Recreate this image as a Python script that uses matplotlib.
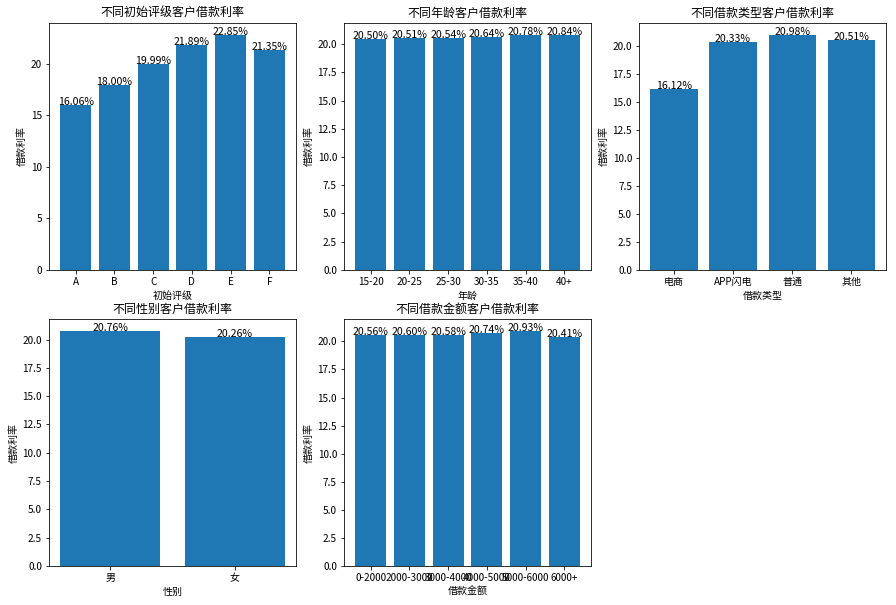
import matplotlib.pyplot as plt

plt.rcParams['font.family'] = ['Noto Sans CJK SC', 'DejaVu Sans']
plt.rcParams['axes.unicode_minus'] = False

# data
grade_labels = ['A', 'B', 'C', 'D', 'E', 'F']
grade_rates = [16.06, 18.00, 19.99, 21.89, 22.85, 21.35]

age_labels = ['15-20', '20-25', '25-30', '30-35', '35-40', '40+']
age_rates = [20.50, 20.51, 20.54, 20.64, 20.78, 20.84]

type_labels = ['电商', 'APP闪电', '普通', '其他']
type_rates = [16.12, 20.33, 20.98, 20.51]

sex_labels = ['男', '女']
sex_rates = [20.76, 20.26]

amount_labels = ['0-2000', '2000-3000', '3000-4000', '4000-5000', '5000-6000', '6000+']
amount_rates = [20.56, 20.60, 20.58, 20.74, 20.93, 20.41]


def draw_bar(ax, labels, rates, title, xlabel):
    """draw one bar chart with percent text on top"""
    x = range(len(labels))
    ax.bar(x, rates, color='#1f77b4')
    for i, v in zip(x, rates):
        ax.text(i, v, '%.2f%%' % v, ha='center', va='baseline', fontsize=10.5)
    ax.set_xticks(list(x))
    ax.set_xticklabels(labels)
    ax.set_title(title)
    ax.set_xlabel(xlabel)
    ax.set_ylabel('借款利率')


fig = plt.figure(figsize=(896 / 72, 605 / 72), dpi=72)
fig.subplots_adjust(left=0.0547, right=0.989, top=0.962, bottom=0.0645,
                    wspace=0.194, hspace=0.2)

ax1 = fig.add_subplot(2, 3, 1)
draw_bar(ax1, grade_labels, grade_rates, '不同初始评级客户借款利率', '初始评级')
ax2 = fig.add_subplot(2, 3, 2)
draw_bar(ax2, age_labels, age_rates, '不同年龄客户借款利率', '年龄')
ax3 = fig.add_subplot(2, 3, 3)
draw_bar(ax3, type_labels, type_rates, '不同借款类型客户借款利率', '借款类型')
ax4 = fig.add_subplot(2, 3, 4)
draw_bar(ax4, sex_labels, sex_rates, '不同性别客户借款利率', '性别')
ax5 = fig.add_subplot(2, 3, 5)
draw_bar(ax5, amount_labels, amount_rates, '不同借款金额客户借款利率', '借款金额')

plt.savefig('out.png', dpi=72)
